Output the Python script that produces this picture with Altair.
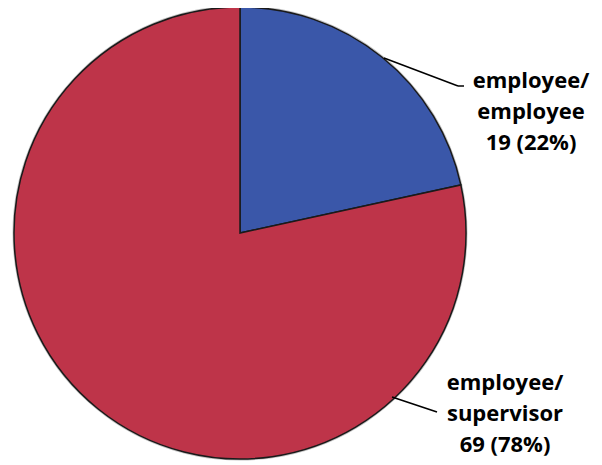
import altair as alt
import pandas as pd

categories = ["employee/employee", "employee/supervisor"]
counts = [19, 69]
percents = ["22%", "78%"]
colors = ["#3A57A9", "#BE3449"]

df = pd.DataFrame({
    "category": categories,
    "count": counts,
    "order": [0, 1],
})

CX, CY, R = 232, 225, 226

pie = alt.Chart(df).mark_arc(
    radius=R, stroke="#1a1a1a", strokeWidth=1.5
).encode(
    theta=alt.Theta("count:Q", stack=True),
    order=alt.Order("order:Q"),
    color=alt.Color("category:N", scale=alt.Scale(domain=categories, range=colors), legend=None),
    x=alt.value(CX),
    y=alt.value(CY),
)

rim = alt.Chart(pd.DataFrame({"a": [1]})).mark_arc(
    radius=R + 1.5, fill="#9a9a9a", opacity=0.6
).encode(theta=alt.value(6.2832), x=alt.value(CX), y=alt.value(CY))

# leader lines (annotation geometry)
leaders = pd.DataFrame({
    "x1": [376, 450, 384],
    "y1": [50, 78, 389],
    "x2": [450, 456, 429],
    "y2": [78, 78, 404],
})
lines = alt.Chart(leaders).mark_rule(color="black", strokeWidth=1.5).encode(
    x=alt.X("x1:Q", scale=None), y=alt.Y("y1:Q", scale=None),
    x2="x2:Q", y2="y2:Q",
)

label_text = [f"employee/\nemployee\n{counts[0]} ({percents[0]})",
              f"employee/\nsupervisor\n{counts[1]} ({percents[1]})"]

def label(txt, x, y):
    return alt.Chart(pd.DataFrame({"t": [txt]})).mark_text(
        font="Open Sans", fontWeight="bold", fontSize=22, align="center",
        baseline="alphabetic", lineBreak="\n", lineHeight=31, color="black",
    ).encode(text="t:N", x=alt.value(x), y=alt.value(y))

chart = alt.layer(
    rim, pie, lines,
    label(label_text[0], 523, 80),
    label(label_text[1], 497, 382),
).properties(
    width=586, height=455, padding=0, autosize=alt.AutoSizeParams(type="none")
).configure_view(stroke=None)

chart.save("out.html", embed_options={"renderer": "svg", "actions": False})
